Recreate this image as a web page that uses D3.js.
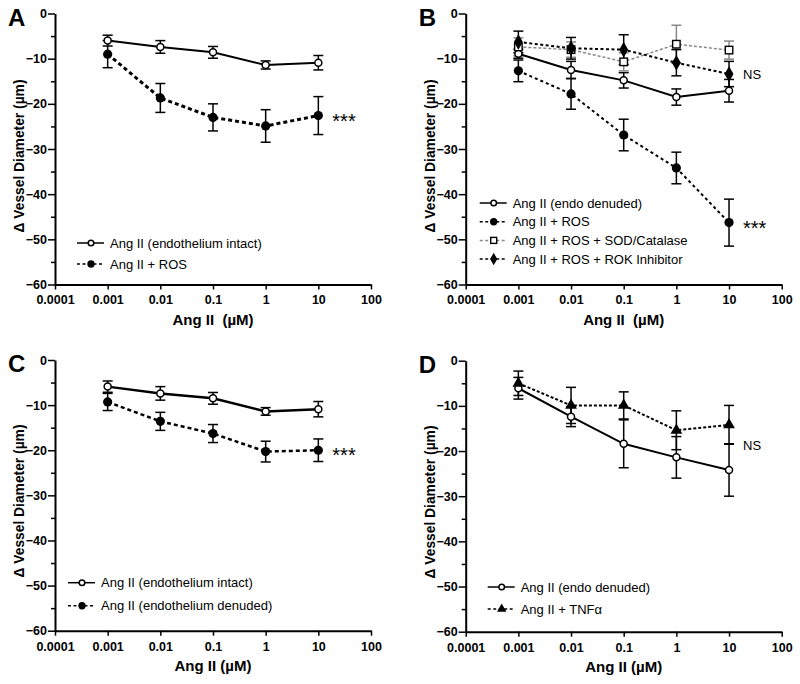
<!DOCTYPE html>
<html lang="en">
<head>
<meta charset="utf-8">
<title>Ang II vessel diameter</title>
<script src="https://d3js.org/d3.v7.min.js"></script>
<style>
body{margin:0;background:#fff;}
svg{display:block;font-family:"Liberation Sans",Arial,sans-serif;}
</style>
</head>
<body>
<svg width="800" height="684"></svg>
<script>
// doses and axis labels
var doses = [0.001, 0.01, 0.1, 1, 10];
var xTicks = [0.0001, 0.001, 0.01, 0.1, 1, 10, 100];
var xTickLabels = ["0.0001", "0.001", "0.01", "0.1", "1", "10", "100"];
var yTicks = [0, -10, -20, -30, -40, -50, -60];
var yMinor = [-5, -15, -25, -35, -45, -55];

// panel A
var aIntactMean = [-6.0, -7.4, -8.6, -11.4, -10.9];
var aIntactSem  = [1.2, 1.4, 1.3, 0.9, 1.6];
var aRosMean    = [-9.0, -18.7, -23.0, -24.9, -22.6];
var aRosSem     = [3.0, 3.2, 3.0, 3.6, 4.2];

// panel B
var bDenudedMean = [-8.9, -12.5, -14.8, -18.5, -17.1];
var bDenudedSem  = [1.0, 1.9, 1.7, 1.8, 2.5];
var bRosMean     = [-12.7, -17.8, -26.9, -34.2, -46.3];
var bRosSem      = [2.4, 3.4, 3.5, 3.5, 5.2];
var bSodMean     = [-7.4, -8.0, -10.7, -6.8, -8.1];
var bSodSem      = [2.0, 1.7, 2.0, 4.2, 2.0];
var bRokMean     = [-6.3, -7.7, -8.0, -10.9, -13.4];
var bRokSem      = [2.4, 2.4, 3.3, 2.9, 2.8];

// panel C
var cIntactMean  = [-5.9, -7.4, -8.5, -11.4, -10.9];
var cIntactSem   = [1.25, 1.5, 1.3, 0.85, 1.7];
var cDenudedMean = [-9.3, -13.6, -16.3, -20.3, -20.0];
var cDenudedSem  = [1.9, 2.0, 2.0, 2.3, 2.5];

// panel D
var dDenudedMean = [-6.1, -12.4, -18.4, -21.4, -24.2];
var dDenudedSem  = [2.4, 2.2, 5.3, 4.6, 5.8];
var dTnfMean     = [-5.0, -9.9, -9.9, -15.4, -14.2];
var dTnfSem      = [2.7, 4.0, 3.0, 4.3, 4.3];

var panels = [
  {letter: "A", left: 55, right: 371, top: 13.5, bottom: 284.5, lx: 22, ly: 229.5, legGap: 21,
   xTitle: "Ang II\u00a0\u00a0(\u00b5M)", ylabMid: 156,
   series: [
     {name: "Ang II (endothelium intact)", mean: aIntactMean, sem: aIntactSem, marker: "open", dash: null, width: 2, color: "#000"},
     {name: "Ang II + ROS", mean: aRosMean, sem: aRosSem, marker: "filled", dash: "4,3", width: 3, color: "#000"}
   ],
   notes: [{text: "***", x: 10, y: -22.6, size: 20, weight: "normal"}]},
  {letter: "B", left: 465.7, right: 781.7, top: 13.5, bottom: 284.5, lx: 14, ly: 189.5, legGap: 18.7,
   xTitle: "Ang II\u00a0\u00a0(\u00b5M)", ylabMid: 156,
   series: [
     {name: "Ang II (endo denuded)", mean: bDenudedMean, sem: bDenudedSem, marker: "open", dash: null, width: 2, color: "#000"},
     {name: "Ang II + ROS", mean: bRosMean, sem: bRosSem, marker: "filled", dash: "3,3", width: 2, color: "#000"},
     {name: "Ang II + ROS + SOD/Catalase", mean: bSodMean, sem: bSodSem, marker: "square", dash: "3,2", width: 1.5, color: "#888"},
     {name: "Ang II + ROS + ROK Inhibitor", mean: bRokMean, sem: bRokSem, marker: "diamond", dash: "3,2.5", width: 2, color: "#000"}
   ],
   notes: [{text: "NS", x: 10, y: -13.4, size: 13, weight: "normal"},
           {text: "***", x: 10, y: -46.3, size: 20, weight: "normal"}]},
  {letter: "C", left: 55, right: 371, top: 360, bottom: 630.7, lx: 13, ly: 222.7, legGap: 23,
   xTitle: "Ang II (\u00b5M)", ylabMid: 501,
   series: [
     {name: "Ang II (endothelium intact)", mean: cIntactMean, sem: cIntactSem, marker: "open", dash: null, width: 2.5, color: "#000"},
     {name: "Ang II (endothelium denuded)", mean: cDenudedMean, sem: cDenudedSem, marker: "filled", dash: "4,3", width: 2.5, color: "#000"}
   ],
   notes: [{text: "***", x: 10, y: -20, size: 20, weight: "normal"}]},
  {letter: "D", left: 465.7, right: 781.7, top: 360.7, bottom: 631.7, lx: 22, ly: 226.3, legGap: 22,
   xTitle: "Ang II (\u00b5M)", ylabMid: 502,
   series: [
     {name: "Ang II (endo denuded)", mean: dDenudedMean, sem: dDenudedSem, marker: "open", dash: null, width: 2, color: "#000"},
     {name: "Ang II + TNF\u03b1", mean: dTnfMean, sem: dTnfSem, marker: "triangle", dash: "3,2", width: 2, color: "#000"}
   ],
   notes: [{text: "NS", x: 10, y: -18.7, size: 13, weight: "normal"}]}
];

var svg = d3.select("svg");

function drawMarker(g, type, cx, cy, small) {
  var k = small ? 0.8 : 1;
  if (type == "open") {
    g.append("circle").attr("cx", cx).attr("cy", cy).attr("r", 3.5 * k)
      .attr("fill", "#fff").attr("stroke", "#000").attr("stroke-width", 1.5);
  } else if (type == "filled") {
    g.append("circle").attr("cx", cx).attr("cy", cy).attr("r", 4.6 * k).attr("fill", "#000");
  } else if (type == "square") {
    var s = 7.5 * k;
    g.append("rect").attr("x", cx - s / 2).attr("y", cy - s / 2).attr("width", s).attr("height", s)
      .attr("fill", "#fff").attr("stroke", "#000").attr("stroke-width", 1.4);
  } else if (type == "diamond") {
    g.append("path").attr("d", d3.symbol().type(d3.symbolDiamond).size(70 * k * k)())
      .attr("transform", "translate(" + cx + "," + cy + ")").attr("fill", "#000");
  } else if (type == "triangle") {
    g.append("path").attr("d", d3.symbol().type(d3.symbolTriangle).size(60 * k * k)())
      .attr("transform", "translate(" + cx + "," + cy + ")").attr("fill", "#000");
  }
}

panels.forEach(function(p) {
  var x = d3.scaleLog().domain([0.0001, 100]).range([p.left, p.right]);
  var y = d3.scaleLinear().domain([-60, 0]).range([p.bottom, p.top]);
  var g = svg.append("g");

  // y axis
  g.append("g").attr("transform", "translate(" + p.left + ",0)")
    .call(d3.axisLeft(y).tickValues(yTicks).tickSize(7).tickSizeOuter(0).tickPadding(1).tickFormat(d3.format("d")));
  g.append("g").attr("transform", "translate(" + p.left + ",0)")
    .call(d3.axisLeft(y).tickValues(yMinor).tickSize(4).tickSizeOuter(0).tickFormat(""))
    .select(".domain").remove();

  // x axis
  g.append("g").attr("transform", "translate(0," + p.bottom + ")")
    .call(d3.axisBottom(x).tickValues(xTicks).tickSize(5).tickSizeOuter(0).tickPadding(6)
      .tickFormat(function(d, i) { return xTickLabels[i]; }));

  g.selectAll(".domain").attr("stroke", "#000").attr("stroke-width", 2);
  g.selectAll(".tick line").attr("stroke", "#000").attr("stroke-width", 1.5);
  g.selectAll(".tick text").attr("fill", "#000").style("font-size", "12.5px").style("font-weight", "bold")
    .style("font-family", "'Liberation Sans', Arial, sans-serif");

  // titles
  g.append("text").attr("x", (p.left + p.right) / 2).attr("y", p.bottom + 40)
    .attr("text-anchor", "middle").style("font-size", "15px").style("font-weight", "bold")
    .text(p.xTitle);
  g.append("text").attr("transform", "translate(" + (p.left - 31) + "," + p.ylabMid + ") rotate(-90)")
    .attr("text-anchor", "middle").style("font-size", "14.5px").style("font-weight", "bold")
    .attr("textLength", 153).attr("lengthAdjust", "spacingAndGlyphs")
    .text("\u0394 Vessel Diameter (\u00b5m)");
  g.append("text").attr("x", p.left - 47).attr("y", p.top + 12)
    .style("font-size", "24px").style("font-weight", "bold").text(p.letter);

  // error bars
  p.series.forEach(function(s) {
    var eg = g.append("g").attr("stroke", s.color).attr("stroke-width", 1.5);
    doses.forEach(function(d, i) {
      var cx = x(d), y1 = y(s.mean[i] + s.sem[i]), y2 = y(s.mean[i] - s.sem[i]);
      eg.append("line").attr("x1", cx).attr("x2", cx).attr("y1", y1).attr("y2", y2);
      eg.append("line").attr("x1", cx - 5).attr("x2", cx + 5).attr("y1", y1).attr("y2", y1);
      eg.append("line").attr("x1", cx - 5).attr("x2", cx + 5).attr("y1", y2).attr("y2", y2);
    });
  });

  // lines
  p.series.forEach(function(s) {
    var line = d3.line().x(function(d) { return x(d); }).y(function(d, i) { return y(s.mean[i]); });
    g.append("path").datum(doses).attr("d", line).attr("fill", "none")
      .attr("stroke", s.color).attr("stroke-width", s.width)
      .attr("stroke-dasharray", s.dash);
  });

  // markers
  p.series.forEach(function(s) {
    doses.forEach(function(d, i) { drawMarker(g, s.marker, x(d), y(s.mean[i]), false); });
  });

  // annotations
  p.notes.forEach(function(n) {
    g.append("text").attr("x", x(n.x) + 14).attr("y", y(n.y)).attr("dy", n.size > 15 ? "0.6em" : "0.35em")
      .style("font-size", n.size + "px").style("font-weight", n.weight).text(n.text);
  });

  // legend
  var lg = g.append("g");
  p.series.forEach(function(s, i) {
    var ly = p.top + p.ly + i * p.legGap, lx = p.left + p.lx;
    lg.append("line").attr("x1", lx).attr("x2", lx + 27).attr("y1", ly).attr("y2", ly)
      .attr("stroke", s.color).attr("stroke-width", 1.5).attr("stroke-dasharray", s.dash ? "3,2.5" : null);
    drawMarker(lg, s.marker, lx + 14, ly, true);
    lg.append("text").attr("x", lx + 33).attr("y", ly).attr("dy", "0.36em")
      .style("font-size", "13px").text(s.name);
  });
});
</script>
</body>
</html>
